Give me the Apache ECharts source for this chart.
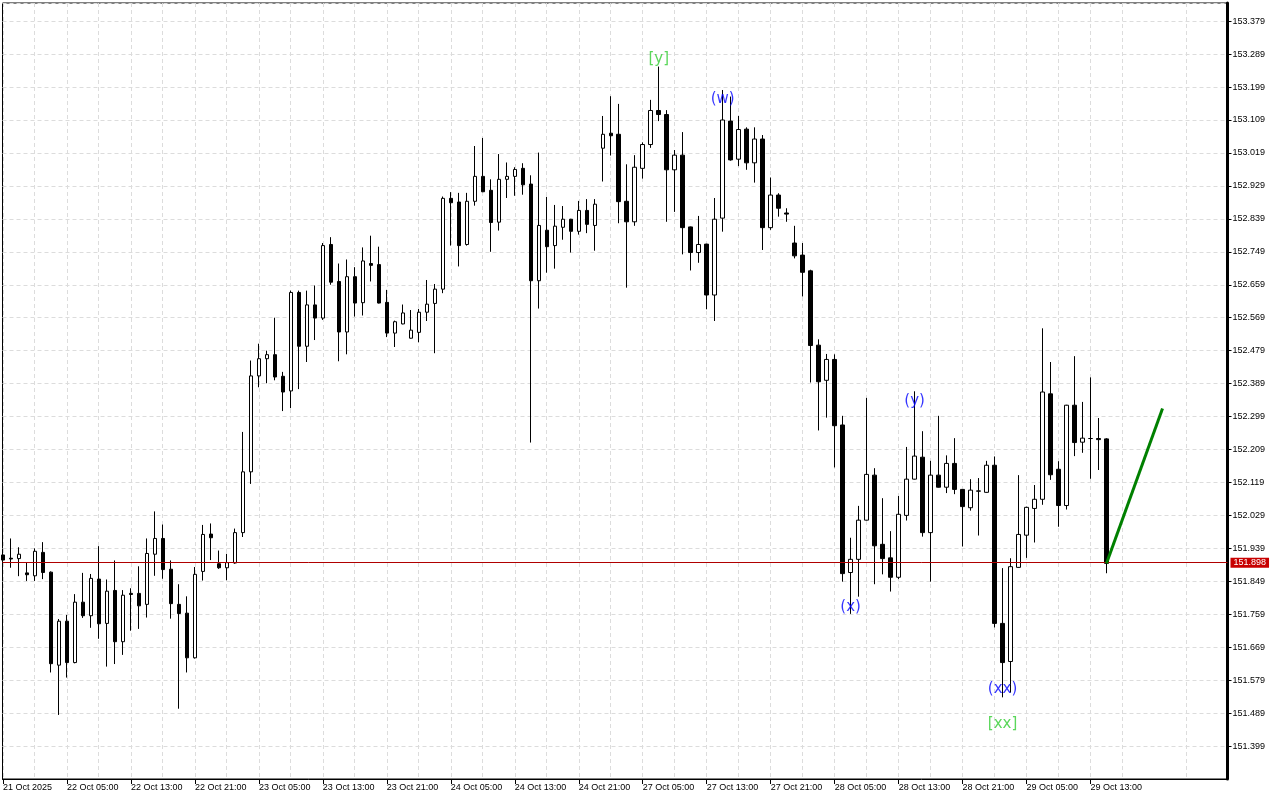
<!DOCTYPE html>
<html><head><meta charset="utf-8">
<script src="https://cdn.jsdelivr.net/npm/echarts@6/dist/echarts.min.js"></script>
<style>html,body{margin:0;padding:0;background:#fff}#c{width:1280px;height:800px}</style>
</head><body><div id="c"></div>
<script>
// hourly candles, index 0 = 21 Oct 2025 21:00
const openP = [
151.921,151.912,151.911,151.872,151.864,151.928,151.874,151.620,151.740,151.627,
151.792,151.755,151.855,151.734,151.824,151.684,151.816,151.816,151.786,151.923,
151.966,151.882,151.786,151.762,151.640,151.876,151.978,151.897,151.886,151.899,
151.982,152.148,152.410,152.457,152.468,152.409,152.369,152.638,152.491,152.604,
152.568,152.769,152.668,152.530,152.681,152.610,152.717,152.714,152.611,152.527,
152.552,152.513,152.529,152.584,152.608,152.647,152.895,152.885,152.769,152.887,
152.955,152.917,152.830,152.947,152.955,152.977,152.934,152.670,152.808,152.766,
152.816,152.838,152.805,152.862,152.821,153.032,153.073,153.070,152.887,152.831,
152.977,153.042,153.135,153.124,152.973,153.013,152.817,152.747,152.770,152.631,
152.841,153.106,153.002,153.084,152.992,153.057,152.815,152.904,152.855,152.773,
152.740,152.697,152.494,152.398,152.455,152.276,151.873,151.909,152.016,152.139,
151.950,151.913,151.860,152.029,152.128,152.188,151.982,152.139,152.106,152.171,
152.100,152.050,152.095,152.092,152.166,151.734,151.630,151.887,151.975,152.048,
152.073,152.361,152.155,152.056,152.330,152.229,152.239,152.239,152.238];
const closeP = [
151.907,151.910,151.923,151.867,151.931,151.873,151.624,151.740,151.627,151.792,
151.755,151.857,151.733,151.822,151.684,151.811,151.813,151.782,151.925,151.966,
151.881,151.788,151.761,151.640,151.868,151.977,151.968,151.886,151.900,151.982,
152.148,152.410,152.457,152.468,152.407,152.366,152.638,152.491,152.604,152.568,
152.766,152.666,152.530,152.681,152.609,152.724,152.712,152.609,152.527,152.558,
152.582,152.535,152.584,152.606,152.647,152.895,152.883,152.766,152.887,152.955,
152.913,152.829,152.947,152.955,152.974,152.932,152.670,152.821,152.763,152.819,
152.838,152.805,152.862,152.824,152.879,153.070,153.066,152.886,152.831,152.980,
153.042,153.135,153.124,152.973,153.013,152.815,152.747,152.769,152.631,152.838,
153.109,153.000,153.083,152.992,153.057,152.815,152.904,152.868,152.852,152.738,
152.693,152.493,152.394,152.455,152.274,151.870,151.909,152.016,152.141,151.946,
151.911,151.860,152.032,152.128,152.191,151.982,152.139,152.106,152.171,152.100,
152.053,152.098,152.096,152.166,151.734,151.627,151.889,151.977,152.051,152.073,
152.366,152.140,152.056,152.330,152.228,152.240,152.239,152.236,151.898];
const lowP = [
151.905,151.886,151.863,151.850,151.850,151.855,151.600,151.484,151.586,151.625,
151.749,151.722,151.692,151.616,151.623,151.648,151.714,151.719,151.750,151.864,
151.856,151.747,151.501,151.600,151.638,151.851,151.907,151.883,151.852,151.897,
151.970,152.115,152.379,152.390,152.398,152.314,152.322,152.374,152.448,152.508,
152.563,152.659,152.450,152.469,152.572,152.575,152.668,152.608,152.516,152.489,
152.551,152.512,152.502,152.560,152.472,152.636,152.766,152.709,152.766,152.875,
152.912,152.749,152.807,152.896,152.902,152.905,152.228,152.594,152.692,152.703,
152.782,152.747,152.796,152.800,152.752,152.941,153.012,152.827,152.651,152.820,
152.949,153.033,153.106,152.831,152.858,152.742,152.698,152.719,152.592,152.560,
152.804,152.998,152.983,152.973,152.938,152.754,152.809,152.845,152.831,152.731,
152.627,152.392,152.261,152.296,152.160,151.848,151.760,151.807,152.015,151.841,
151.868,151.821,151.855,152.015,152.127,151.971,151.848,152.105,152.090,152.087,
151.944,152.042,151.974,152.091,151.723,151.532,151.545,151.886,151.913,151.955,
152.058,152.126,151.998,152.045,152.191,152.200,152.129,152.153,151.871];
const highP = [
151.925,151.966,151.942,151.900,151.939,151.956,151.876,151.746,151.757,151.814,
151.872,151.869,151.945,151.854,151.906,151.825,151.830,151.890,151.966,152.040,
152.004,151.906,151.841,151.808,151.888,152.003,152.007,151.933,151.924,151.993,
152.257,152.452,152.498,152.479,152.569,152.421,152.643,152.643,152.643,152.657,
152.773,152.789,152.717,152.728,152.707,152.761,152.793,152.763,152.645,152.561,
152.605,152.590,152.593,152.672,152.661,152.900,152.912,152.910,152.910,153.038,
153.060,152.947,153.016,152.993,152.980,152.991,152.958,153.020,152.899,152.877,
152.874,152.839,152.888,152.893,152.893,153.120,153.174,153.153,152.988,153.013,
153.048,153.164,153.255,153.136,153.027,153.076,152.818,152.847,152.771,152.896,
153.191,153.173,153.120,153.089,153.089,153.068,152.952,152.909,152.868,152.820,
152.773,152.700,152.510,152.470,152.469,152.301,151.968,152.055,152.350,152.158,
152.076,151.986,152.082,152.216,152.368,152.259,152.178,152.301,152.193,152.240,
152.101,152.128,152.131,152.178,152.190,151.885,151.912,152.139,152.053,152.112,
152.540,152.448,152.177,152.331,152.464,152.339,152.406,152.295,152.240];

// time labels, one every 8 candles
const tickLabels = ['21 Oct 2025','22 Oct 05:00','22 Oct 13:00','22 Oct 21:00','23 Oct 05:00',
  '23 Oct 13:00','23 Oct 21:00','24 Oct 05:00','24 Oct 13:00','24 Oct 21:00','27 Oct 05:00',
  '27 Oct 13:00','27 Oct 21:00','28 Oct 05:00','28 Oct 13:00','28 Oct 21:00','29 Oct 05:00','29 Oct 13:00'];

// wave annotations
const annoIndex = [82, 90, 106, 114, 125, 125];
const annoPrice = [153.275, 153.165, 151.779, 152.341, 151.555, 151.458];
const annoText  = ['[y]', '(w)', '(x)', '(y)', '(xx)', '[xx]'];

// forecast line
const forecastIndex = [138, 145];
const forecastPrice = [151.898, 152.321];

const lastPrice = 151.898;
const priceTickBase = 151.399;
const priceTickStep = 0.09;
const labelStep = 8;

const candles = openP.map((o, i) => [i, o, closeP[i], lowP[i], highP[i]]);
const annoData = annoText.map((t, i) => ({
  value: [annoIndex[i], annoPrice[i]],
  label: { formatter: t, color: t.charAt(0) === '[' ? '#32cd32' : '#0000ff' }
}));
const forecastData = forecastIndex.map((x, i) => [x, forecastPrice[i]]);
const labelIdx = tickLabels.map((_, k) => k * labelStep);

const gridColor = '#dcdcdc';
const chart = echarts.init(document.getElementById('c'), null, { renderer: 'canvas' });
chart.setOption({
  animation: false,
  backgroundColor: '#fff',
  grid: { left: 2, right: 52.5, top: 3, bottom: 21, show: true, borderColor: '#000', borderWidth: 1, backgroundColor: 'transparent' },
  xAxis: {
    type: 'value', min: -0.0625, max: 153.125, interval: 8,
    axisLine: { show: true, lineStyle: { color: '#000', width: 1 } },
    axisTick: { show: true, length: 5, lineStyle: { color: '#000' }, customValues: labelIdx },
    axisLabel: {
      show: true, margin: 4, align: 'left', color: '#000', fontFamily: 'Liberation Sans', fontSize: 9,
      customValues: labelIdx,
      formatter: function (v) {
        const k = Math.round(v / labelStep);
        return k >= 0 && k < tickLabels.length ? tickLabels[k] : '';
      }
    },
    splitLine: { show: true, lineStyle: { color: gridColor, type: [4, 3], width: 1 } },
    minorTick: { show: false, splitNumber: 2 },
    minorSplitLine: { show: true, lineStyle: { color: gridColor, type: [4, 3], width: 1 } }
  },
  yAxis: {
    type: 'value', position: 'right', min: 151.309, max: 153.4286, interval: priceTickStep,
    axisLine: { show: true, onZero: false, lineStyle: { color: '#000', width: 3 } },
    axisTick: { show: true, length: 4, lineStyle: { color: '#000' } },
    axisLabel: {
      margin: 5, color: '#000', fontFamily: 'Liberation Sans', fontSize: 9,
      showMinLabel: false, showMaxLabel: false,
      formatter: function (v) {
        const k = (v - priceTickBase) / priceTickStep;
        if (Math.abs(k - Math.round(k)) > 0.01 || v < priceTickBase - 0.01 || v > 153.39) return '';
        return v.toFixed(3);
      }
    },
    splitLine: { show: true, lineStyle: { color: gridColor, type: [4, 3], width: 1 } }
  },
  series: [
    {
      type: 'candlestick',
      data: candles,
      encode: { x: 0, y: [1, 2, 3, 4] },
      barWidth: 4,
      clip: true,
      itemStyle: { color: '#ffffff', color0: '#000000', borderColor: '#000000', borderColor0: '#000000', borderColorDoji: '#000000', borderWidth: 1 },
      markLine: {
        silent: true, symbol: ['none', 'none'], animation: false,
        lineStyle: { color: '#b00000', width: 1, type: 'solid' },
        label: {
          show: true, position: 'end', distance: 3, formatter: lastPrice.toFixed(3),
          color: '#fff', backgroundColor: '#c80000', padding: [1, 3, 0, 3],
          fontFamily: 'Liberation Sans', fontSize: 9
        },
        data: [{ yAxis: lastPrice }]
      }
    },
    {
      type: 'line',
      data: forecastData,
      symbol: 'none',
      lineStyle: { color: '#008000', width: 3 },
      z: 5
    },
    {
      type: 'scatter',
      data: annoData,
      symbolSize: 0.1,
      itemStyle: { color: 'rgba(0,0,0,0)' },
      label: { show: true, position: 'inside', fontFamily: 'DejaVu Sans', fontSize: 15 },
      z: 6
    }
  ]
});
</script>
</body></html>
